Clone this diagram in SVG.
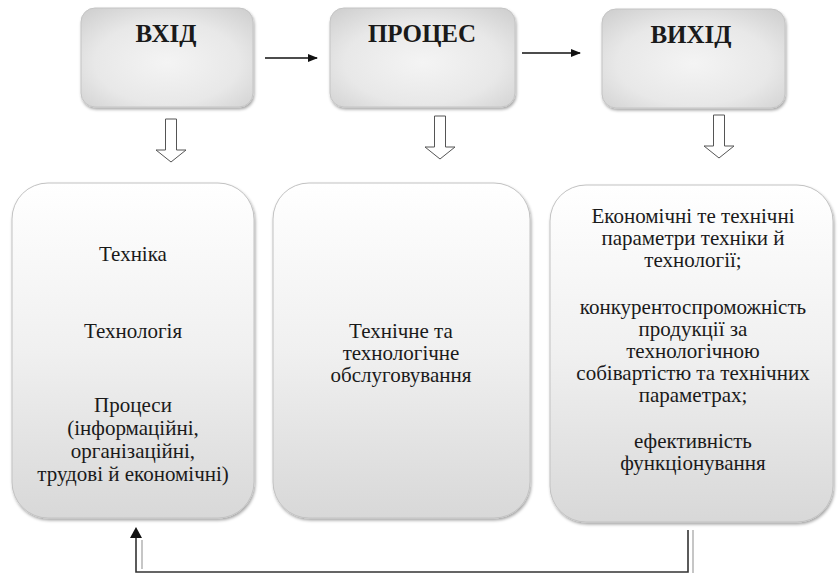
<svg xmlns="http://www.w3.org/2000/svg" width="838" height="576" viewBox="0 0 838 576">
  <defs>
    <radialGradient id="gTop" cx="0.5" cy="0.55" r="0.7">
      <stop offset="0" stop-color="#f4f4f4"/>
      <stop offset="0.6" stop-color="#e8e8e8"/>
      <stop offset="1" stop-color="#d0d0d0"/>
    </radialGradient>
    <linearGradient id="gBot" x1="0" y1="0" x2="0" y2="1">
      <stop offset="0" stop-color="#ffffff"/>
      <stop offset="0.5" stop-color="#f0f0f0"/>
      <stop offset="1" stop-color="#d8d8d8"/>
    </linearGradient>
    <filter id="sh" x="-10%" y="-10%" width="120%" height="125%">
      <feDropShadow dx="1" dy="2" stdDeviation="1.5" flood-color="#000" flood-opacity="0.35"/>
    </filter>
    <marker id="ah" markerWidth="10" markerHeight="8" refX="9" refY="4" orient="auto" markerUnits="userSpaceOnUse">
      <path d="M0,0 L10,4 L0,8 Z" fill="#111"/>
    </marker>
    <path id="hollow" d="M-5.5,0 H5.5 V31 H15 L0,43 L-15,31 H-5.5 Z"/>
  </defs>
  <style>
    .top { fill: url(#gTop); stroke: #c4c4c4; stroke-width: 1; filter: url(#sh); }
    .bot { fill: url(#gBot); stroke: #c2c2c2; stroke-width: 1; filter: url(#sh); }
    .title { font-family: "Liberation Serif", "Times New Roman", "DejaVu Serif", serif; font-weight: bold; font-size: 25px; fill: #1a1a1a; text-anchor: middle; }
    .txt { font-family: "Liberation Serif", "Times New Roman", "DejaVu Serif", serif; font-size: 21px; fill: #1a1a1a; text-anchor: middle; }
    .hol { fill: #ffffff; stroke: #555555; stroke-width: 1; }
    .ln { stroke: #111; stroke-width: 1.3; fill: none; }
    .fb { stroke: #333; stroke-width: 1.6; fill: none; }
    .fb2 { stroke: #a0a0a0; stroke-width: 1.2; fill: none; }
  </style>

  <g id="node-vkhid">
    <rect class="top" x="81" y="8" width="172" height="99" rx="14"/>
    <text class="title" x="166" y="42">ВХІД</text>
  </g>
  <g id="node-protses">
    <rect class="top" x="330" y="8" width="185" height="99" rx="14"/>
    <text class="title" x="422" y="42">ПРОЦЕС</text>
  </g>
  <g id="node-vykhid">
    <rect class="top" x="602" y="9" width="183" height="99" rx="14"/>
    <text class="title" x="691" y="43">ВИХІД</text>
  </g>

  <g id="node-input-list">
    <rect class="bot" x="12" y="183" width="242" height="335" rx="36"/>
    <text class="txt" x="133" y="261">Техніка</text>
    <text class="txt" x="133" y="338">Технологія</text>
    <text class="txt" x="133" y="412">Процеси</text>
    <text class="txt" x="133" y="435">(інформаційні,</text>
    <text class="txt" x="133" y="458">організаційні,</text>
    <text class="txt" x="133" y="481">трудові й економічні)</text>
  </g>
  <g id="node-process-list">
    <rect class="bot" x="273" y="183" width="257" height="335" rx="36"/>
    <text class="txt" x="401" y="338">Технічне та</text>
    <text class="txt" x="401" y="360">технологічне</text>
    <text class="txt" x="401" y="382">обслуговування</text>
  </g>
  <g id="node-output-list">
    <rect class="bot" x="550" y="185" width="283" height="337" rx="36"/>
    <text class="txt" x="693" y="223">Економічні те технічні</text>
    <text class="txt" x="693" y="245">параметри техніки й</text>
    <text class="txt" x="693" y="267">технології;</text>
    <text class="txt" x="693" y="314">конкурентоспроможність</text>
    <text class="txt" x="693" y="336">продукції за</text>
    <text class="txt" x="693" y="358">технологічною</text>
    <text class="txt" x="693" y="380">собівартістю та технічних</text>
    <text class="txt" x="693" y="402">параметрах;</text>
    <text class="txt" x="693" y="448">ефективність</text>
    <text class="txt" x="693" y="470">функціонування</text>
  </g>

  <g id="connectors">
    <line class="ln" x1="265" y1="58" x2="317" y2="58" marker-end="url(#ah)"/>
    <line class="ln" x1="522" y1="53" x2="580" y2="53" marker-end="url(#ah)"/>
    <use href="#hollow" class="hol" transform="translate(171,119)"/>
    <use href="#hollow" class="hol" transform="translate(440,116)"/>
    <use href="#hollow" class="hol" transform="translate(719,115)"/>
    <path class="fb2" d="M693,530 V573"/>
    <path class="fb2" d="M142,540 V569"/>
    <path class="fb" d="M688,530 V572 H136 V538"/>
    <path d="M130,538 L136,527 L142,538 Z" fill="#111"/>
  </g>
</svg>
